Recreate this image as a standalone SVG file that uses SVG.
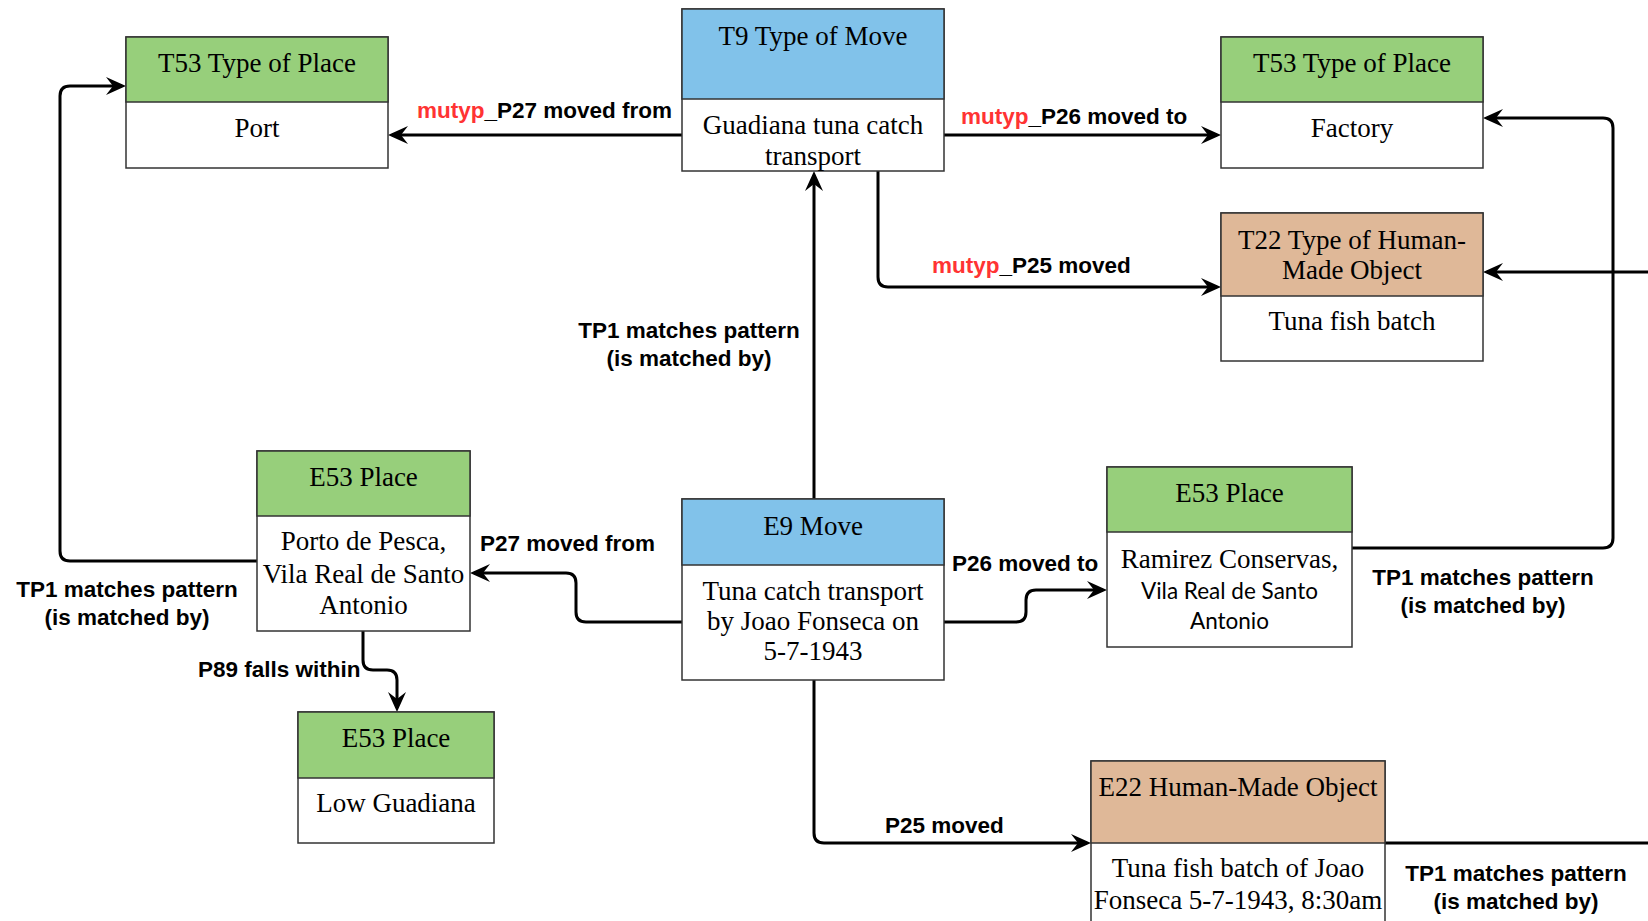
<svg xmlns="http://www.w3.org/2000/svg" width="1648" height="921" viewBox="0 0 1648 921">
<defs>
<marker id="arr" markerUnits="userSpaceOnUse" markerWidth="20" markerHeight="18" refX="16" refY="9" orient="auto">
<path d="M20,9 L0,0 L7,9 L0,18 Z" fill="#000"/>
</marker>
<style>
.hdr{stroke:#333;stroke-width:1.5}
.green{fill:#97CF7B}
.blue{fill:#81C2EA}
.tan{fill:#DFB898}
.body{fill:#fff;stroke:#333;stroke-width:1.5}
.t{font-family:"Liberation Serif","Times New Roman",serif;font-size:27px;fill:#000;text-anchor:middle}
.s{font-family:Lato,"Open Sans",sans-serif;font-size:22.5px;fill:#000;text-anchor:middle}
.lbl{font-family:"Liberation Sans",Arial,sans-serif;font-size:22.5px;font-weight:bold;fill:#000}
.red{fill:#FF3333}
.c{text-anchor:middle}
.conn{fill:none;stroke:#000;stroke-width:3;stroke-linejoin:round}
</style>
</defs>
<rect width="1648" height="921" fill="#fff"/>

<g id="connectors">
<path class="conn" d="M682,135 L392,135" marker-end="url(#arr)"/>
<path class="conn" d="M944,135 L1217,135" marker-end="url(#arr)"/>
<path class="conn" d="M878,171 L878,277 Q878,287 888,287 L1217,287" marker-end="url(#arr)"/>
<path class="conn" d="M814,499 L814,175" marker-end="url(#arr)"/>
<path class="conn" d="M257,561 L70,561 Q60,561 60,551 L60,96 Q60,86 70,86 L122,86" marker-end="url(#arr)"/>
<path class="conn" d="M682,622 L586,622 Q576,622 576,612 L576,583 Q576,573 566,573 L474,573" marker-end="url(#arr)"/>
<path class="conn" d="M944,622 L1016,622 Q1026,622 1026,612 L1026,600 Q1026,590 1036,590 L1103,590" marker-end="url(#arr)"/>
<path class="conn" d="M363,631 L363,660 Q363,670 373,670 L387,670 Q397,670 397,680 L397,708" marker-end="url(#arr)"/>
<path class="conn" d="M814,680 L814,833 Q814,843 824,843 L1087,843" marker-end="url(#arr)"/>
<path class="conn" d="M1352,548 L1603,548 Q1613,548 1613,538 L1613,128 Q1613,118 1603,118 L1487,118" marker-end="url(#arr)"/>
<path class="conn" d="M1385,843 L1648,843"/>
<path class="conn" d="M1648,272 L1487,272" marker-end="url(#arr)"/>

<text class="lbl" x="417" y="118"><tspan class="red">mutyp</tspan>_P27 moved from</text>
<text class="lbl" x="961" y="124"><tspan class="red">mutyp</tspan>_P26 moved to</text>
<text class="lbl" x="932" y="273"><tspan class="red">mutyp</tspan>_P25 moved</text>
<text class="lbl c" x="689" y="338">TP1 matches pattern</text>
<text class="lbl c" x="689" y="366">(is matched by)</text>
<text class="lbl c" x="127" y="597">TP1 matches pattern</text>
<text class="lbl c" x="127" y="625">(is matched by)</text>
<text class="lbl" x="480" y="551">P27 moved from</text>
<text class="lbl" x="952" y="571">P26 moved to</text>
<text class="lbl" x="198" y="677">P89 falls within</text>
<text class="lbl" x="885" y="833">P25 moved</text>
<text class="lbl c" x="1483" y="585">TP1 matches pattern</text>
<text class="lbl c" x="1483" y="613">(is matched by)</text>
<text class="lbl c" x="1516" y="881">TP1 matches pattern</text>
<text class="lbl c" x="1516" y="909">(is matched by)</text>
</g>

<g id="t53-port">
<rect class="body" x="126" y="37" width="262" height="131"/>
<rect class="green hdr" x="126" y="37" width="262" height="65"/>
<text class="t" x="257" y="72">T53 Type of Place</text>
<text class="t" x="257" y="137">Port</text>
</g>

<g id="t9-type-of-move">
<rect class="body" x="682" y="9" width="262" height="162"/>
<rect class="blue hdr" x="682" y="9" width="262" height="90"/>
<text class="t" x="813" y="45">T9 Type of Move</text>
<text class="t" x="813" y="134">Guadiana tuna catch</text>
<text class="t" x="813" y="165">transport</text>
</g>

<g id="t53-factory">
<rect class="body" x="1221" y="37" width="262" height="131"/>
<rect class="green hdr" x="1221" y="37" width="262" height="65"/>
<text class="t" x="1352" y="72">T53 Type of Place</text>
<text class="t" x="1352" y="137">Factory</text>
</g>

<g id="t22-type-of-hmo">
<rect class="body" x="1221" y="213" width="262" height="148"/>
<rect class="tan hdr" x="1221" y="213" width="262" height="83"/>
<text class="t" x="1352" y="249">T22 Type of Human-</text>
<text class="t" x="1352" y="279">Made Object</text>
<text class="t" x="1352" y="330">Tuna fish batch</text>
</g>

<g id="e53-porto">
<rect class="body" x="257" y="451" width="213" height="180"/>
<rect class="green hdr" x="257" y="451" width="213" height="65"/>
<text class="t" x="363.5" y="486">E53 Place</text>
<text class="t" x="363.5" y="550">Porto de Pesca,</text>
<text class="t" x="363.5" y="583">Vila Real de Santo</text>
<text class="t" x="363.5" y="614">Antonio</text>
</g>

<g id="e9-move">
<rect class="body" x="682" y="499" width="262" height="181"/>
<rect class="blue hdr" x="682" y="499" width="262" height="66"/>
<text class="t" x="813" y="535">E9 Move</text>
<text class="t" x="813" y="600">Tuna catch transport</text>
<text class="t" x="813" y="630">by Joao Fonseca on</text>
<text class="t" x="813" y="660">5-7-1943</text>
</g>

<g id="e53-ramirez">
<rect class="body" x="1107" y="467" width="245" height="180"/>
<rect class="green hdr" x="1107" y="467" width="245" height="65"/>
<text class="t" x="1229.5" y="502">E53 Place</text>
<text class="t" x="1229.5" y="568">Ramirez Conservas,</text>
<text class="s" x="1229.5" y="599">Vila Real de Santo</text>
<text class="s" x="1229.5" y="629">Antonio</text>
</g>

<g id="e53-low-guadiana">
<rect class="body" x="298" y="712" width="196" height="131"/>
<rect class="green hdr" x="298" y="712" width="196" height="66"/>
<text class="t" x="396" y="747">E53 Place</text>
<text class="t" x="396" y="812">Low Guadiana</text>
</g>

<g id="e22-hmo">
<rect class="body" x="1091" y="761" width="294" height="170"/>
<rect class="tan hdr" x="1091" y="761" width="294" height="82"/>
<text class="t" x="1238" y="796">E22 Human-Made Object</text>
<text class="t" x="1238" y="877">Tuna fish batch of Joao</text>
<text class="t" x="1238" y="909">Fonseca 5-7-1943, 8:30am</text>
</g>
</svg>
